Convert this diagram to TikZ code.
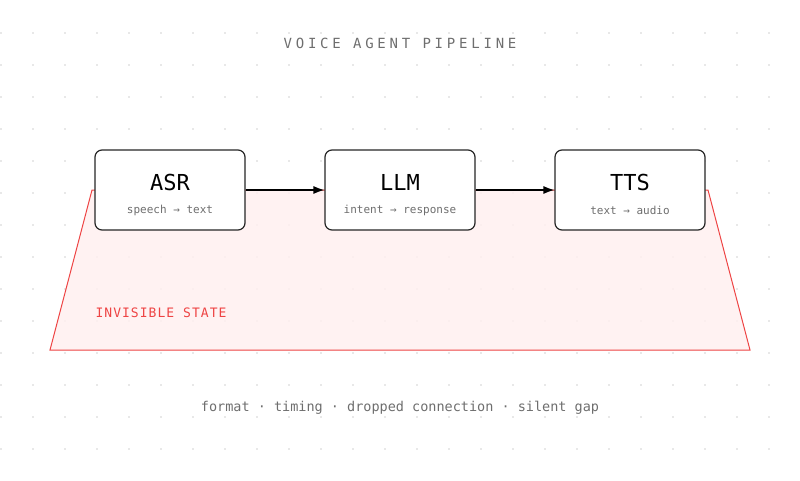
\documentclass[tikz,border=0pt]{standalone}
\usepackage{fontspec}
\setmonofont{DejaVu Sans Mono}
\newfontfamily\titlefont[LetterSpace=27]{DejaVu Sans Mono}
\newfontfamily\statefont[LetterSpace=8]{DejaVu Sans Mono}
\usetikzlibrary{arrows.meta}
\definecolor{stateRed}{HTML}{EE4444}
\definecolor{stateFill}{HTML}{FFF0F0}
\definecolor{subGray}{HTML}{6E6E6E}
\tikzset{
  stage/.style={draw=black!85, line width=1.2pt, rounded corners=7pt, fill=white,
    minimum width=150pt, minimum height=80pt},
  flow/.style={-{Latex[length=11pt,width=8pt]}, line width=1.3pt},
}
\begin{document}
\begin{tikzpicture}[x=1pt,y=-1pt, font=\ttfamily]
\useasboundingbox (0,0) rectangle (800,480);

\foreach \i in {0,...,25}
  \foreach \j in {1,...,14}
    \fill[black!18] (1+32*\i,1+32*\j) circle (0.8pt);

\draw[stateRed, fill=stateFill, fill opacity=0.85, line width=1pt] (92,190) -- (708,190) -- (750,350) -- (50,350) -- cycle;

\node (title) at (400,43) {\fontsize{14}{16}\selectfont\titlefont\color{subGray}VOICE AGENT PIPELINE};

\node[stage] (asr) at (170,190) {};
\node[stage] (llm) at (400,190) {};
\node[stage] (tts) at (630,190) {};

\node (asr_text) at (170,182) {\fontsize{22}{24}\selectfont ASR};
\node (asr_sub) at (170,210) {\fontsize{11}{13}\selectfont\color{subGray}speech → text};
\node (llm_text) at (400,182) {\fontsize{22}{24}\selectfont LLM};
\node (llm_sub) at (400,210) {\fontsize{11}{13}\selectfont\color{subGray}intent → response};
\node (tts_text) at (630,182) {\fontsize{22}{24}\selectfont TTS};
\node (tts_sub) at (630,210) {\fontsize{11}{13}\selectfont\color{subGray}text → audio};

\draw[flow] (asr) -- (llm);
\draw[flow] (llm) -- (tts);

\node[anchor=west] (state_text) at (92,313) {\fontsize{13}{15}\selectfont\statefont\color{stateRed}INVISIBLE STATE};
\node (gaps) at (400,408) {\fontsize{13.5}{15}\selectfont\color{subGray}format · timing · dropped connection · silent gap};
\end{tikzpicture}
\end{document}
